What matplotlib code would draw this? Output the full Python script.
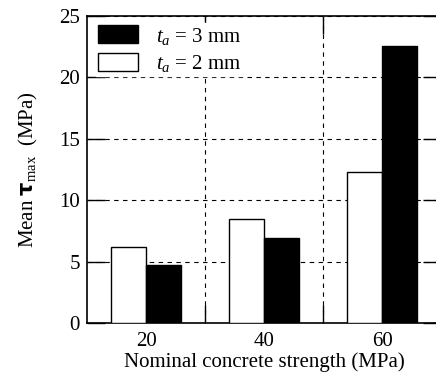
import numpy as np
import matplotlib.pyplot as plt
from matplotlib.patches import Patch

plt.rcParams['font.family'] = ['Liberation Serif', 'DejaVu Serif']
plt.rcParams['mathtext.fontset'] = 'custom'
plt.rcParams['mathtext.rm'] = 'Liberation Serif'
plt.rcParams['mathtext.it'] = 'Liberation Serif:italic'

# data
strengths = ['20', '40', '60']
tau_2mm = [6.2, 8.5, 12.3]
tau_3mm = [4.7, 6.9, 22.5]

x = np.arange(len(strengths))
w = 0.3
fs = 15

fig = plt.figure(figsize=(4.36, 3.84), dpi=100)
# right spine sits just past the image edge in the original
ax = fig.add_axes([87 / 436, 60.7 / 384, 354 / 436, 307.6 / 384])

ax.bar(x - w / 2, tau_2mm, w, color='white', edgecolor='black', lw=1.0, zorder=3)
ax.bar(x + w / 2, tau_3mm, w, color='black', edgecolor='black', lw=1.0, zorder=3)

ax.set_xlim(-0.5, 2.5)
ax.set_ylim(0, 25)
ax.set_yticks([0, 5, 10, 15, 20, 25])
ax.set_xticks([0.5, 1.5])
ax.set_xticklabels([])
ax.set_xticks(x, minor=True)
ax.set_xticklabels(strengths, minor=True)
ax.tick_params(which='major', direction='in', length=13, width=1, top=True, right=True,
               labelsize=fs, pad=5)
ax.tick_params(axis='x', which='minor', length=0, labelsize=fs, pad=6)
ax.grid(True, which='major', color='black', lw=0.8, ls=(0, (4, 4)), zorder=1)
for s in ax.spines.values():
    s.set_linewidth(1.2)

ax.set_xlabel('Nominal concrete strength (MPa)', fontsize=fs, labelpad=1)
ax.set_ylabel(r'Mean $\mathbf{\tau}_{\rm max}$  (MPa)', fontsize=fs, labelpad=14)

handles = [Patch(facecolor='black', edgecolor='black'),
           Patch(facecolor='white', edgecolor='black')]
leg = ax.legend(handles, [r'$t_a$ = 3 mm', r'$t_a$ = 2 mm'], loc='upper left',
                bbox_to_anchor=(0.025, 0.975), fontsize=fs, frameon=True, fancybox=False,
                handlelength=1.9, handleheight=0.95, handletextpad=0.9, labelspacing=0.3,
                borderpad=0.1, borderaxespad=0)
leg.get_frame().set_edgecolor('white')
leg.get_frame().set_facecolor('white')
leg.get_frame().set_alpha(1)
leg.set_zorder(5)

fig.savefig('out.png', dpi=100)
